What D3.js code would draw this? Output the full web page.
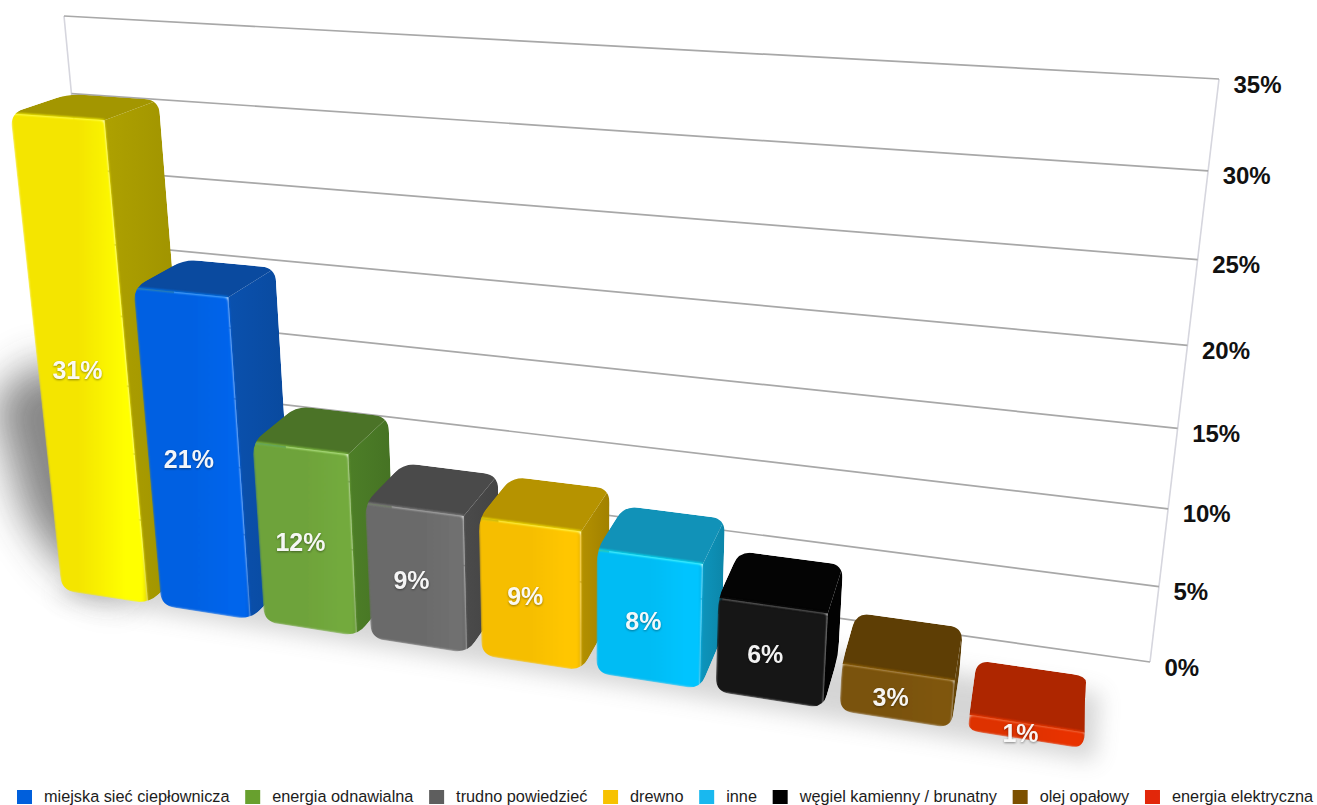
<!DOCTYPE html>
<html>
<head>
<meta charset="utf-8">
<script src="https://cdn.jsdelivr.net/npm/d3@7/dist/d3.min.js"></script>
<style>
html,body{margin:0;padding:0;background:#fff;overflow:hidden}
svg{display:block}
text{font-family:"Liberation Sans",Arial,sans-serif}
</style>
</head>
<body>
<svg id="chart" width="1317" height="805"></svg>
<script>
// Chart content
const categories = ["gaz","miejska sieć ciepłownicza","energia odnawialna","trudno powiedzieć","drewno","inne","węgiel kamienny / brunatny","olej opałowy","energia elektryczna"];
const shares = [31,21,12,9,9,8,6,3,1];
const frontColors = ["#f4e500","#0061e2","#6ea33a","#6a6a6a","#f6be00","#00bcf4","#141414","#7a5209","#de3000"];
const topColors   = ["#a39600","#0a4a9f","#4b7327","#4a4a4a","#b69300","#1192b8","#040404","#5e3e05","#ae2600"];
const sideColors  = ["#a89b00","#0a4ea8","#4a7a26","#484848","#ad8b00","#0d90b6","#020202","#63430a","#a82400"];
const swatchColors = ["#005fdc","#68a02e","#5e5e5e","#f7c200","#19b8ef","#000000","#7c5000","#e2270a"];
const legendLabels = categories.slice(1);
const axisTicks = [0,5,10,15,20,25,30,35];

const svg = d3.select("#chart");
const defs = svg.append("defs");

// Perspective camera: the back wall is a homography of the unit square,
// depth runs toward a vanishing point above the chart.
const wall = {bl:[112,516], br:[1150,662], tr:[1219,79], tl:[64,16]};
const depthVanish = [1100,-250];

function wallHomography(q){
  const [x0,y0]=q.bl,[x1,y1]=q.br,[x2,y2]=q.tr,[x3,y3]=q.tl;
  const dx1=x1-x2,dx2=x3-x2,sx=x0-x1+x2-x3;
  const dy1=y1-y2,dy2=y3-y2,sy=y0-y1+y2-y3;
  const den=dx1*dy2-dx2*dy1;
  const g=(sx*dy2-dx2*sy)/den,h=(dx1*sy-sx*dy1)/den;
  return {a:x1-x0+g*x1,b:x3-x0+h*x3,c:x0,d:y1-y0+g*y1,e:y3-y0+h*y3,f:y0,g,h};
}
const H = wallHomography(wall);
function project(u,v,z=0){
  const W=H.g*u+H.h*v+1-z;
  return [(H.a*u+H.b*v+H.c-z*depthVanish[0])/W,(H.d*u+H.e*v+H.f-z*depthVanish[1])/W];
}

const xBand = d3.scaleBand().domain(categories).range([0.04,0.947]).paddingInner(0.13);
const yValue = d3.scaleLinear().domain([0,35]).range([0,1]);
const depthBack = 0.035, depthFront = 0.082;

// Polygon with its corners eased by a quadratic curve
function roundedPath(pts,r){
  const n=pts.length; let s="";
  for(let i=0;i<n;i++){
    const p=pts[i],a=pts[(i+n-1)%n],b=pts[(i+1)%n];
    const la=Math.hypot(a[0]-p[0],a[1]-p[1]),lb=Math.hypot(b[0]-p[0],b[1]-p[1]);
    const ra=Math.min(r,la/2.2),rb=Math.min(r,lb/2.2);
    const s0=[p[0]+(a[0]-p[0])*ra/la,p[1]+(a[1]-p[1])*ra/la];
    const s1=[p[0]+(b[0]-p[0])*rb/lb,p[1]+(b[1]-p[1])*rb/lb];
    s+=(i?"L":"M")+s0[0]+","+s0[1]+"Q"+p[0]+","+p[1]+" "+s1[0]+","+s1[1];
  }
  return s+"Z";
}

// Filters and per-bar gradients
const addBlur=(id,dev)=>defs.append("filter").attr("id",id)
  .attr("x","-60%").attr("y","-60%").attr("width","220%").attr("height","220%")
  .append("feGaussianBlur").attr("stdDeviation",dev);
addBlur("blurWide",20); addBlur("blurFloor",11); addBlur("blurEdge",1.3); addBlur("blurLine",0.5); addBlur("blurText",1.2); addBlur("blurFace",0.8);

function gradient(id,stops){
  const g=defs.append("linearGradient").attr("id",id).attr("x1",0).attr("x2",1).attr("y1",0).attr("y2",0);
  stops.forEach(([o,c])=>g.append("stop").attr("offset",o).attr("stop-color",c));
}
categories.forEach((c,i)=>{
  const f=d3.color(frontColors[i]), sd=d3.color(sideColors[i]);
  const lift = i===0 ? "#ffff00" : f.brighter(0.12).formatHex();
  gradient("front"+i,[[0,f.formatHex()],[0.5,f.formatHex()],[0.84,lift],[0.96,lift],[1,f.darker(0.2).formatHex()]]);
  gradient("side"+i,[[0,sd.brighter(0.1).formatHex()],[0.35,sd.formatHex()],[1,sd.darker(0.2).formatHex()]]);
});

// Back wall: grid lines and its two upright edges
const wallG = svg.append("g").attr("filter","url(#blurLine)");
[0,1].forEach(u=>{
  wallG.append("line")
    .attr("x1",project(u,0)[0]).attr("y1",project(u,0)[1])
    .attr("x2",project(u,1)[0]).attr("y2",project(u,1)[1])
    .attr("stroke","#d6d6de").attr("stroke-width",1.6);
});
wallG.selectAll("line.grid").data(axisTicks).join("line").attr("class","grid")
  .attr("x1",d=>project(0,yValue(d))[0]).attr("y1",d=>project(0,yValue(d))[1])
  .attr("x2",d=>project(1,yValue(d))[0]).attr("y2",d=>project(1,yValue(d))[1])
  .attr("stroke","#a8a8a8").attr("stroke-width",1.7);

// Axis labels beside the right edge of the wall
svg.selectAll("text.tick").data(axisTicks).join("text").attr("class","tick")
  .attr("x",d=>project(1,yValue(d))[0]+14.5)
  .attr("y",d=>project(1,yValue(d))[1]+13.5)
  .attr("font-size",24).attr("font-weight",700).attr("fill","#111")
  .text(d=>d+"%");

// Floor shadows
const shadowG = svg.append("g");
const u0=xBand(categories[0]), uN=xBand(categories[8])+xBand.bandwidth();
shadowG.append("path")
  .attr("d",d3.line()([project(u0,0,depthFront+0.006),project(uN+0.008,0,depthFront+0.008),project(uN+0.012,0,depthBack),project(u0,0,depthBack)]))
  .attr("fill","#777").attr("opacity",0.3).attr("filter","url(#blurFloor)");
const tallTop=yValue(shares[0])*0.5;
shadowG.append("path")
  .attr("d",d3.line()([project(u0,tallTop,depthFront),project(u0+0.06,tallTop*0.98,depthFront),project(u0+0.06,0,depthFront),project(u0,yValue(2),depthFront),project(u0-0.03,yValue(5),depthFront),project(u0-0.05,tallTop*0.82,depthFront)]))
  .attr("fill","#3e3e3e").attr("opacity",0.62).attr("filter","url(#blurWide)");

// Bars, left to right so each one overlaps its neighbour
const bars = svg.selectAll("g.bar").data(categories).join("g").attr("class","bar");
bars.each(function(cat,i){
  const g=d3.select(this);
  const uL=xBand(cat), uR=uL+xBand.bandwidth(), vT=yValue(shares[i]);
  const fbl=project(uL,0,depthFront), fbr=project(uR,0,depthFront), bbr=project(uR,0,depthBack);
  const ftl=project(uL,vT,depthFront), ftr=project(uR,vT,depthFront);
  const btl=project(uL,vT,depthBack), btr=project(uR,vT,depthBack);
  const outline=[fbl,fbr,bbr,btr,btl,ftl];
  defs.append("clipPath").attr("id","clip"+i).append("path").attr("d",roundedPath(outline,14));
  const inner=g.append("g").attr("clip-path","url(#clip"+i+")");
  inner.append("path").attr("d",d3.line()([fbr,bbr,btr,ftr])).attr("fill","url(#side"+i+")");
  inner.append("path").attr("d",d3.line()([ftl,ftr,btr,btl])).attr("fill",topColors[i]);
  inner.append("path").attr("d",roundedPath([fbl,fbr,ftr,ftl],5)).attr("fill","url(#front"+i+")").attr("filter","url(#blurFace)");
  // Bevel highlight where the front meets the top
  inner.append("path").attr("d",d3.line()([ftl,ftr]))
    .attr("stroke",d3.color(frontColors[i]).brighter(0.9).formatHex()).attr("stroke-width",2)
    .attr("fill","none").attr("opacity",0.65).attr("filter","url(#blurEdge)");
});

// Value labels on the front faces, each with a faint soft shadow
const labelPos = (c,i)=>project(xBand(c)+xBand.bandwidth()*0.45,yValue(shares[i])/2,depthFront);
svg.selectAll("text.shade").data(categories).join("text").attr("class","shade")
  .attr("x",(c,i)=>labelPos(c,i)[0]).attr("y",(c,i)=>labelPos(c,i)[1]+12)
  .attr("text-anchor","middle").attr("font-size",25).attr("font-weight",700)
  .attr("fill","#000").attr("opacity",0.4).attr("filter","url(#blurText)")
  .text((c,i)=>shares[i]+"%");
svg.selectAll("text.value").data(categories).join("text").attr("class","value")
  .attr("x",(c,i)=>labelPos(c,i)[0]).attr("y",(c,i)=>labelPos(c,i)[1]+11)
  .attr("text-anchor","middle").attr("font-size",25).attr("font-weight",700)
  .attr("fill","#fff").attr("opacity",0.95)
  .text((c,i)=>shares[i]+"%");

// Legend row, laid out from the measured width of each label
const legend = svg.append("g");
let cursor = 17;
legendLabels.forEach((name,i)=>{
  legend.append("rect").attr("x",cursor).attr("y",790).attr("width",15).attr("height",14).attr("fill",swatchColors[i]);
  const t=legend.append("text").attr("x",cursor+27).attr("y",802).attr("font-size",16.3).attr("fill","#1c1c1c").text(name);
  cursor += 27 + t.node().getComputedTextLength() + 15.7;
});
</script>
</body>
</html>
